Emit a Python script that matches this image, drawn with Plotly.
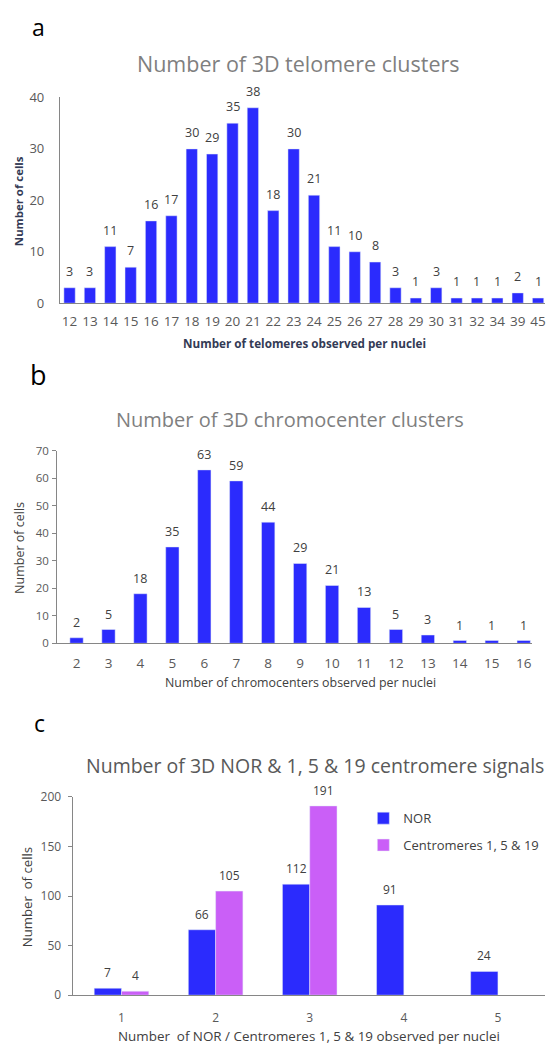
import plotly.graph_objects as go

# ---------------- data ----------------
tel_cats = ["12", "13", "14", "15", "16", "17", "18", "19", "20", "21", "22", "23",
            "24", "25", "26", "27", "28", "29", "30", "31", "32", "34", "39", "45"]
tel_vals = [3, 3, 11, 7, 16, 17, 30, 29, 35, 38, 18, 30, 21, 11, 10, 8, 3, 1, 3, 1, 1, 1, 2, 1]

chr_cats = ["2", "3", "4", "5", "6", "7", "8", "9", "10", "11", "12", "13", "14", "15", "16"]
chr_vals = [2, 5, 18, 35, 63, 59, 44, 29, 21, 13, 5, 3, 1, 1, 1]

sig_cats = [1, 2, 3, 4, 5]
nor_vals = [7, 66, 112, 91, 24]
cen_vals = [4, 105, 191, None, None]

tel_title = "Number of 3D telomere clusters"
chr_title = "Number of 3D chromocenter clusters"
sig_title = "Number of 3D NOR & 1, 5 & 19 centromere signals"

BLUE = "#2b2bfd"
PURPLE = "#ca5ff7"
FONT = "Open Sans"
W, H = 546, 1053


def py(p):
    return 1 - p / H


def px(p):
    return p / W


tel_x = list(range(len(tel_cats)))
chr_x = list(range(len(chr_cats)))

fig = go.Figure()

# panel a
fig.add_trace(go.Bar(x=tel_x, y=tel_vals, marker_color=BLUE, width=0.556,
                     xaxis="x", yaxis="y", showlegend=False, cliponaxis=False))
# panel b
fig.add_trace(go.Bar(x=chr_x, y=chr_vals, marker_color=BLUE, width=0.417,
                     xaxis="x2", yaxis="y2", showlegend=False, cliponaxis=False))
# panel c
bw = 0.29
fig.add_trace(go.Bar(x=sig_cats, y=nor_vals, marker_color=BLUE, width=bw, offset=-bw,
                     xaxis="x3", yaxis="y3", name="NOR", legendgroup="g1", cliponaxis=False))
fig.add_trace(go.Bar(x=sig_cats, y=cen_vals, marker_color=PURPLE, width=bw, offset=0,
                     xaxis="x3", yaxis="y3", name="Centromeres 1, 5 & 19", legendgroup="g2",
                     cliponaxis=False))

annots = []
LBL = dict(family=FONT, size=12.5, color="#404040")
for c, v in zip(tel_x, tel_vals):
    annots.append(dict(x=c, y=v, xref="x", yref="y", text=str(v), showarrow=False,
                       xanchor="center", yanchor="bottom", yshift=6, font=LBL))
for c, v in zip(chr_x, chr_vals):
    annots.append(dict(x=c, y=v, xref="x2", yref="y2", text=str(v), showarrow=False,
                       xanchor="center", yanchor="bottom", yshift=5, font=LBL))
LBLC = dict(family=FONT, size=12, color="#404040")
for c, v in zip(sig_cats, nor_vals):
    annots.append(dict(x=c - bw / 2, y=v, xref="x3", yref="y3", text=str(v), showarrow=False,
                       xanchor="center", yanchor="bottom", yshift=5, font=LBLC))
for c, v in zip(sig_cats, cen_vals):
    if v is not None:
        annots.append(dict(x=c + bw / 2, y=v, xref="x3", yref="y3", text=str(v), showarrow=False,
                           xanchor="center", yanchor="bottom", yshift=5, font=LBLC))


def ptext(x, y, text, font, angle=0):
    annots.append(dict(x=px(x), y=py(y), xref="paper", yref="paper", text=text,
                       showarrow=False, xanchor="center", yanchor="middle",
                       textangle=angle, font=font))


# panel letters
ptext(38.5, 18, "a", dict(family=FONT, size=23, color="black"))
ptext(39, 372, "b", dict(family=FONT, size=27, color="black"))
ptext(39.5, 726, "c", dict(family=FONT, size=23, color="black"))

# titles
ptext(298.7, 55, tel_title, dict(family=FONT, size=21.5, color="#7f7f7f"))
ptext(290.8, 417.2, chr_title, dict(family=FONT, size=20, color="#7f7f7f"))
ptext(315.8, 769.7, sig_title, dict(family=FONT, size=19.5, color="#595959"))

# axis titles
ptext(304.7, 340.3, "<b>Number of telomeres observed per nuclei</b>",
      dict(family=FONT, size=11.7, color="#333a55"))
ptext(18.5, 195, "<b>Number of cells</b>", dict(family=FONT, size=11.4, color="#333a55"), -90)
ptext(301.2, 685.2, "Number of chromocenters observed per nuclei",
      dict(family=FONT, size=12.4, color="#404040"))
ptext(20, 548.3, "Number of cells", dict(family=FONT, size=12.5, color="#404040"), -90)
ptext(309.7, 1044.8, "Number  of NOR / Centromeres 1, 5 & 19 observed per nuclei",
      dict(family=FONT, size=13.4, color="#404040"))
ptext(27, 903.8, "Number  of cells", dict(family=FONT, size=13.2, color="#404040"), -90)

GRAY = "#595959"
AX = dict(showline=True, linecolor="#868686", linewidth=1, showgrid=False, zeroline=False,
          ticklabeloverflow="allow")

fig.update_layout(
    width=W, height=H, margin=dict(l=0, r=0, t=0, b=0),
    paper_bgcolor="white", plot_bgcolor="white",
    barmode="overlay",
    annotations=annots,
    xaxis=dict(domain=[px(60), 1], anchor="y", range=[-0.475, 23.34],
               tickvals=tel_x, ticktext=tel_cats, ticks="", ticklabelstandoff=6,
               tickfont=dict(family=FONT, size=13.5, color=GRAY), **AX),
    yaxis=dict(domain=[py(299.3), py(90)], anchor="x", range=[0, 40],
               tickvals=[0, 10, 20, 30, 40], ticks="", ticklabelstandoff=12,
               tickfont=dict(family=FONT, size=13, color=GRAY), **AX),
    xaxis2=dict(domain=[px(57.3), px(533.3)], anchor="y2", range=[-0.606, 14.27],
                tickvals=chr_x, ticktext=chr_cats, ticks="", ticklabelstandoff=8,
                tickfont=dict(family=FONT, size=13.5, color=GRAY), **AX),
    yaxis2=dict(domain=[py(645.3), py(449.3)], anchor="x2", range=[0, 70],
                tickvals=[0, 10, 20, 30, 40, 50, 60, 70], ticks="outside", ticklen=4,
                tickcolor="#868686", ticklabelstandoff=1,
                tickfont=dict(family=FONT, size=11.5, color=GRAY), **AX),
    xaxis3=dict(domain=[px(72.7), 1], anchor="y3", range=[0.48, 5.5], tickvals=sig_cats,
                ticks="", ticklabelstandoff=11,
                tickfont=dict(family=FONT, size=12, color=GRAY), **AX),
    yaxis3=dict(domain=[py(1003.3), py(801.7)], anchor="x3", range=[0, 200],
                tickvals=[0, 50, 100, 150, 200], ticks="outside", ticklen=4,
                tickcolor="#868686", ticklabelstandoff=4,
                tickfont=dict(family=FONT, size=12, color=GRAY), **AX),
    legend=dict(x=px(364), y=py(808), xanchor="left", yanchor="top",
                font=dict(family=FONT, size=13, color="#404040"), tracegroupgap=7,
                itemwidth=30, bgcolor="rgba(0,0,0,0)"),
)

fig.write_html("out.html", config={"displayModeBar": False},
               post_script="document.body.style.margin='0';document.body.style.overflow='hidden';")
